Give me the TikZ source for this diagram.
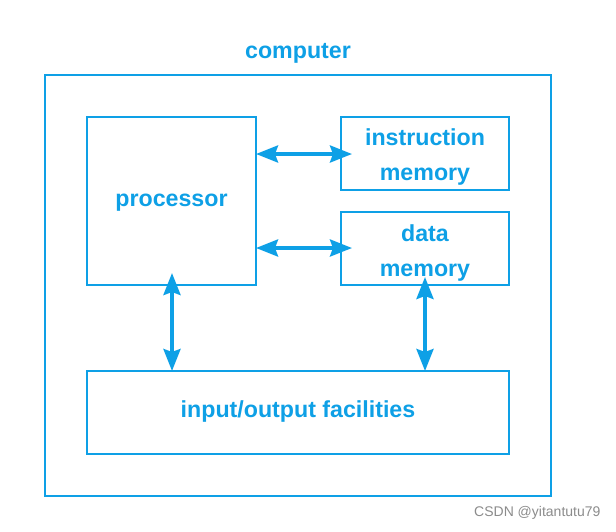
\documentclass[tikz,border=0pt]{standalone}
\usepackage{fontspec}
\setmainfont{Liberation Sans}
\usetikzlibrary{arrows.meta}
\definecolor{cblue}{RGB}{14,160,230}
\tikzset{
  box/.style={draw=cblue, line width=2pt, rectangle, inner sep=0pt},
  lbl/.style={text=cblue, inner sep=0pt, font=\fontsize{23.2}{35}\selectfont\bfseries, align=center},
  conn/.style={draw=cblue, line width=3.5pt,
    {Stealth[length=22pt,width=17pt,inset=3pt]}-{Stealth[length=22pt,width=17pt,inset=3pt]}}
}
\begin{document}
\begin{tikzpicture}[x=1pt,y=-1pt]
\useasboundingbox (0,0) rectangle (616,531);
\fill[white] (0,0) rectangle (616,531);
\node[box, minimum width=506pt, minimum height=421pt] (outer) at (298,285.5) {};
\node[lbl] (title) at (298,53) {computer};
\node[box, minimum width=169pt, minimum height=168pt] (proc) at (171.5,201) {};
\node[lbl] (proct) at (171.5,203) {processor};
\node[box, minimum width=168pt, minimum height=73pt] (imem) at (425,153.5) {};
\node[lbl] (imemt) at (425,157) {instruction\\memory};
\node[box, minimum width=168pt, minimum height=73pt] (dmem) at (425,248.5) {};
\node[lbl] (dmemt) at (425,253) {data\\memory};
\node[box, minimum width=422pt, minimum height=83pt] (io) at (298,412.5) {};
\node[lbl] (iot) at (298,411) {input/output facilities};
\coordinate (a1) at (256,154);
\coordinate (b1) at (352,154);
\coordinate (a2) at (256,248);
\coordinate (b2) at (352,248);
\coordinate (c1) at (172,273);
\coordinate (c2) at (172,371);
\coordinate (d1) at (425,277);
\coordinate (d2) at (425,371);
\draw[conn] (a1) -- (b1);
\draw[conn] (a2) -- (b2);
\draw[conn] (c1) -- (c2);
\draw[conn] (d1) -- (d2);
\node[text=black!45, font=\fontsize{14}{16}\selectfont, anchor=east] (wm) at (604,513) {CSDN @yitantutu79};
\end{tikzpicture}
\end{document}
